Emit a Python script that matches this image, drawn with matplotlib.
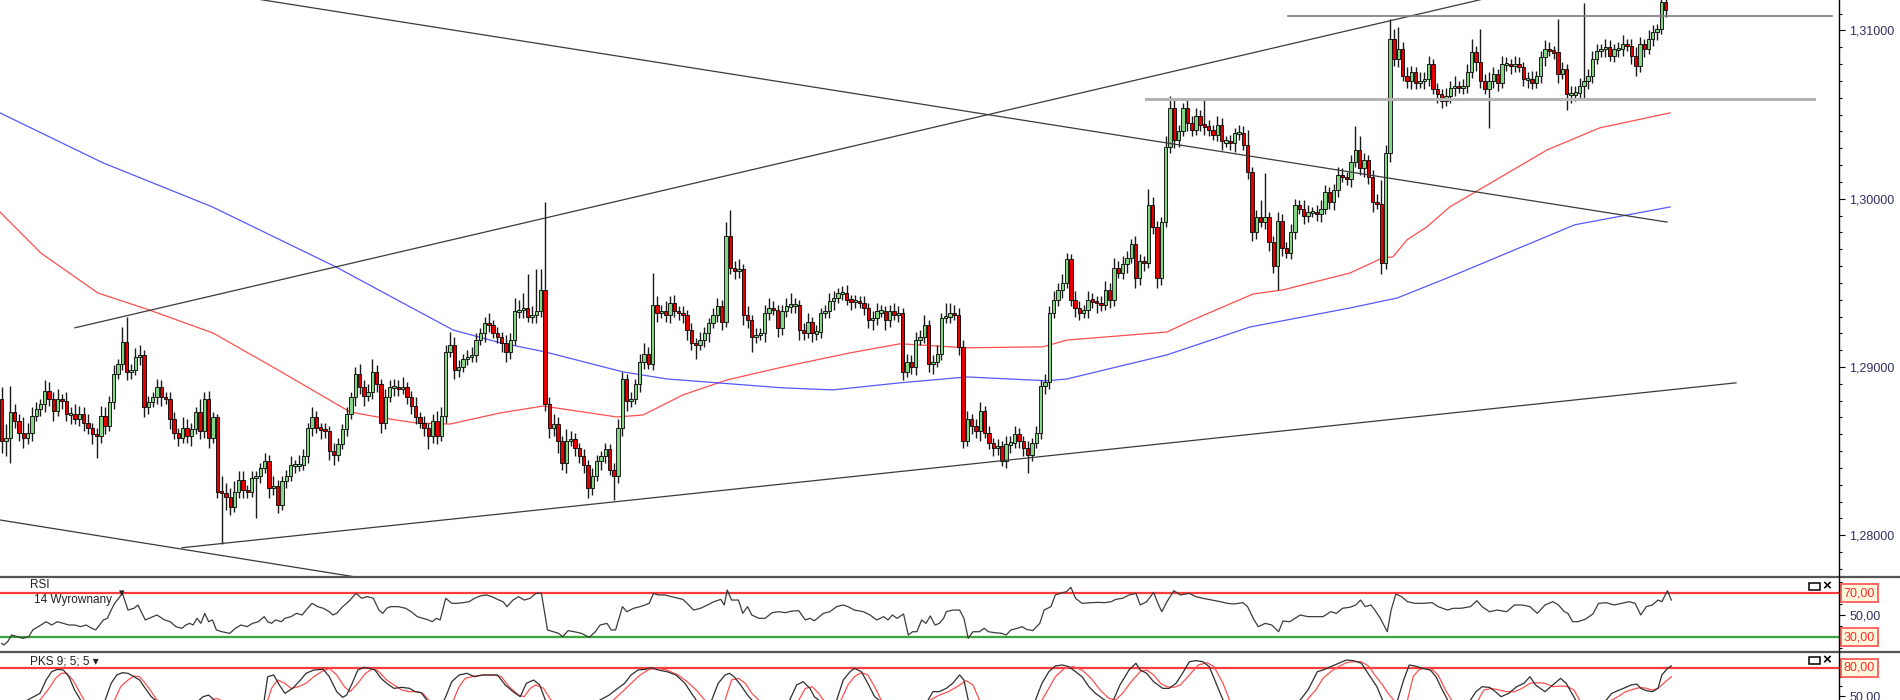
import matplotlib
matplotlib.use("Agg")
import matplotlib.pyplot as plt
import numpy as np
from matplotlib.lines import Line2D
from matplotlib.patches import Rectangle
from matplotlib.transforms import blended_transform_factory

plt.rcParams['font.family'] = ['Liberation Sans', 'DejaVu Sans']

# ---- data: prices in pips above 1.28000, one candle per bar ----
base = 1.28
first_open = 81
closes = [
    56, 58, 73, 68, 61, 58, 61, 71, 75, 78,
    86, 81, 74, 81, 80, 72, 72, 69, 72, 67,
    64, 60, 59, 71, 65, 79, 96, 102, 115, 97,
    98, 106, 107, 76, 79, 82, 88, 82, 81, 69,
    61, 58, 64, 59, 63, 73, 62, 81, 58, 70,
    26, 25, 23, 17, 26, 33, 27, 26, 34, 35,
    40, 44, 28, 29, 18, 32, 35, 42, 42, 42,
    47, 64, 70, 64, 63, 62, 50, 48, 54, 63,
    72, 82, 96, 88, 83, 85, 97, 90, 67, 82,
    88, 88, 87, 88, 82, 77, 70, 67, 64, 59,
    68, 59, 71, 109, 113, 98, 100, 105, 106, 107,
    116, 120, 126, 125, 120, 118, 114, 109, 116, 133,
    134, 135, 130, 131, 133, 146, 78, 64, 66, 56,
    43, 56, 57, 52, 47, 42, 28, 35, 44, 47,
    51, 39, 35, 64, 93, 80, 81, 90, 103, 108,
    102, 137, 132, 133, 131, 138, 133, 132, 131, 122,
    114, 113, 116, 120, 126, 131, 136, 127, 178, 159,
    157, 158, 131, 128, 118, 119, 120, 132, 135, 134,
    123, 133, 136, 137, 137, 122, 120, 127, 120, 121,
    132, 133, 139, 141, 144, 144, 140, 139, 139, 138,
    135, 128, 129, 133, 133, 128, 133, 131, 132, 97,
    103, 100, 116, 118, 125, 102, 103, 108, 129, 130,
    132, 131, 112, 56, 69, 65, 62, 74, 61, 55,
    52, 53, 44, 54, 55, 60, 56, 52, 48, 55,
    61, 89, 91, 132, 140, 146, 150, 164, 140, 135,
    132, 134, 140, 139, 138, 137, 146, 140, 159, 156,
    161, 165, 173, 153, 163, 162, 196, 183, 153, 186,
    231, 254, 235, 240, 254, 245, 241, 249, 244, 243,
    241, 238, 244, 234, 234, 233, 239, 239, 232, 216,
    180, 189, 186, 189, 174, 160, 187, 171, 168, 180,
    196, 194, 190, 192, 192, 191, 194, 204, 198, 205,
    214, 213, 212, 222, 229, 218, 223, 213, 198, 197,
    162, 227, 295, 283, 289, 273, 270, 275, 269, 270,
    271, 280, 265, 262, 258, 261, 266, 267, 266, 267,
    275, 287, 281, 270, 265, 270, 274, 269, 280, 280,
    279, 280, 278, 271, 271, 269, 273, 284, 289, 288,
    287, 274, 277, 262, 262, 263, 267, 270, 273, 283,
    288, 289, 290, 285, 289, 289, 292, 291, 285, 279,
    292, 289, 295, 299, 301, 317, 312,
]
# wick length above / below the body, pips
wick_hi = [
    7, 8, 16, 5, 4, 9, 6, 5, 4, 3,
    6, 5, 4, 6, 3, 5, 4, 6, 5, 4,
    5, 3, 4, 6, 5, 4, 5, 3, 9, 15,
    4, 5, 6, 3, 4, 3, 5, 4, 3, 4,
    4, 3, 6, 5, 4, 3, 8, 4, 5, 3,
    2, 9, 6, 5, 6, 5, 5, 3, 4, 3,
    3, 5, 4, 6, 4, 3, 4, 5, 3, 6,
    4, 3, 6, 4, 3, 4, 3, 5, 4, 3,
    4, 3, 4, 6, 4, 5, 8, 4, 3, 5,
    4, 5, 4, 6, 3, 4, 5, 3, 4, 3,
    4, 6, 5, 4, 8, 5, 4, 3, 4, 5,
    4, 3, 4, 6, 3, 4, 3, 5, 4, 8,
    6, 9, 20, 5, 25, 12, 52, 4, 6, 4,
    3, 7, 5, 4, 3, 4, 3, 5, 4, 3,
    4, 3, 4, 5, 4, 3, 4, 3, 5, 6,
    4, 19, 5, 4, 6, 4, 5, 3, 4, 3,
    4, 3, 5, 4, 3, 4, 5, 4, 8, 15,
    4, 6, 3, 5, 3, 4, 3, 5, 6, 4,
    3, 4, 5, 7, 4, 3, 4, 5, 3, 4,
    3, 4, 5, 4, 3, 4, 5, 3, 4, 3,
    4, 3, 4, 5, 4, 3, 4, 5, 4, 3,
    5, 4, 5, 4, 6, 3, 4, 5, 3, 8,
    6, 5, 4, 4, 5, 3, 4, 5, 3, 4,
    3, 4, 3, 5, 4, 5, 4, 3, 4, 3,
    4, 3, 5, 4, 5, 4, 5, 4, 3, 5,
    4, 3, 5, 4, 3, 4, 5, 4, 6, 4,
    5, 4, 3, 5, 4, 3, 10, 5, 4, 3,
    6, 7, 5, 4, 3, 5, 4, 5, 4, 16,
    4, 3, 5, 4, 3, 4, 3, 5, 4, 9,
    3, 4, 10, 26, 3, 4, 5, 4, 3, 5,
    4, 3, 5, 4, 3, 4, 5, 4, 3, 4,
    5, 4, 3, 4, 14, 8, 4, 3, 4, 5,
    14, 5, 12, 6, 13, 4, 5, 4, 3, 5,
    4, 5, 3, 4, 3, 5, 4, 6, 3, 4,
    5, 8, 4, 20, 4, 5, 4, 3, 5, 4,
    3, 5, 4, 3, 4, 5, 3, 4, 5, 4,
    3, 20, 4, 3, 5, 4, 5, 46, 4, 5,
    4, 3, 5, 4, 3, 4, 5, 3, 4, 5,
    4, 3, 5, 4, 3, 4, 3,
]
wick_lo = [
    7, 9, 15, 4, 5, 6, 4, 5, 3, 4,
    5, 4, 6, 3, 5, 4, 6, 3, 4, 5,
    4, 6, 13, 4, 5, 3, 4, 3, 4, 5,
    4, 3, 5, 6, 4, 3, 4, 5, 3, 6,
    4, 5, 3, 4, 6, 3, 5, 4, 6, 3,
    4, 30, 8, 5, 3, 4, 5, 4, 3, 24,
    4, 3, 6, 4, 5, 3, 4, 3, 5, 4,
    3, 4, 5, 3, 6, 4, 5, 6, 4, 3,
    4, 3, 5, 4, 6, 3, 4, 5, 6, 4,
    3, 5, 4, 3, 4, 5, 4, 3, 5, 8,
    4, 5, 3, 4, 3, 5, 4, 3, 4, 3,
    4, 3, 5, 4, 3, 4, 5, 6, 4, 3,
    4, 5, 3, 4, 5, 3, 4, 6, 5, 7,
    4, 6, 3, 5, 4, 5, 6, 4, 3, 5,
    4, 3, 14, 4, 5, 6, 4, 3, 5, 4,
    3, 4, 5, 3, 4, 5, 3, 4, 5, 6,
    4, 8, 3, 4, 5, 3, 4, 5, 3, 4,
    5, 4, 6, 5, 9, 4, 3, 5, 4, 3,
    5, 4, 3, 4, 5, 6, 4, 3, 5, 4,
    4, 3, 4, 5, 3, 4, 3, 5, 4, 3,
    4, 5, 6, 4, 3, 6, 4, 3, 4, 5,
    3, 4, 5, 3, 4, 5, 6, 3, 4, 3,
    4, 3, 5, 4, 3, 5, 4, 6, 3, 4,
    5, 4, 3, 4, 5, 3, 4, 5, 11, 4,
    3, 4, 5, 4, 3, 4, 5, 3, 4, 5,
    4, 3, 5, 4, 6, 4, 3, 5, 4, 3,
    4, 5, 3, 6, 4, 5, 3, 4, 6, 4,
    3, 4, 5, 4, 3, 5, 4, 3, 4, 5,
    4, 3, 4, 5, 3, 4, 5, 4, 3, 4,
    5, 4, 3, 4, 5, 4, 14, 5, 3, 4,
    4, 3, 5, 4, 3, 4, 5, 3, 4, 5,
    4, 3, 4, 5, 3, 4, 5, 4, 6, 3,
    7, 4, 5, 4, 5, 3, 4, 5, 4, 3,
    5, 4, 3, 5, 4, 3, 4, 5, 3, 4,
    4, 3, 5, 4, 3, 23, 4, 5, 3, 4,
    5, 4, 3, 4, 5, 4, 3, 4, 5, 3,
    4, 5, 3, 9, 5, 4, 3, 8, 5, 4,
    3, 4, 5, 3, 4, 5, 4, 3, 5, 6,
    4, 5, 3, 4, 5, 3, 4,
]

# moving averages: (bar, pips)
ma_red = [(-0.4, 192.1), (9.1, 167.7), (22.3, 144.0), (34.2, 133.9), (49.0, 120.2),
          (62.9, 100.0), (80.8, 73.3), (88.4, 69.7), (96.3, 66.7), (104.0, 66.1),
          (115.6, 72.7), (125.6, 76.8), (142.7, 70.3), (148.8, 71.5), (158.0, 83.4),
          (168.2, 92.3), (181.2, 100.0), (196.8, 108.4), (208.4, 113.8), (223.9, 111.4),
          (241.5, 112.0), (247.1, 116.0), (270.3, 120.8), (276.3, 128.0), (290.3, 143.4),
          (297.2, 145.8), (312.8, 155.9), (320.4, 164.9), (322.7, 165.4), (326.0, 175.6),
          (330.6, 183.3), (335.9, 195.1), (358.5, 229.0), (370.7, 242.1), (387.0, 251.0)]
ma_blue = [(-0.4, 251.0), (23.5, 221.3), (48.8, 195.2), (77.5, 159.5), (91.7, 139.9),
           (104.7, 122.0), (115.6, 114.4), (126.0, 109.0), (144.1, 97.1), (154.3, 92.9),
           (181.2, 87.6), (192.8, 86.4), (208.4, 90.6), (223.9, 94.1), (242.5, 91.8),
           (247.1, 92.9), (270.3, 107.2), (289.6, 123.8), (312.8, 135.1), (323.7, 141.0),
           (335.9, 153.5), (364.9, 184.5), (387.0, 195.1)]

# drawn trend lines (bar, pips) -> (bar, pips)
trend_lines = [((17.0, 123.3), (347.6, 321.0)),
               ((57.6, 319.3), (386.3, 186.1)),
               ((41.8, -7.4), (402.3, 90.6)),
               ((-0.4, 9.1), (82.2, -24.8))]
# horizontal levels: pips, from bar, to bar
levels = [(308.7, 298.3, 424.6), (259.0, 265.4, 420.4)]

# RSI 14 (bar, value)
rsi = [(0, 24.2), (0.5, 22.7), (1.4, 25.8), (2.3, 31.8), (3.6, 30.3), (4.9, 28.8), (6.3, 30.3),
       (7.2, 36.4), (8.5, 39.4), (10.3, 43.9), (11.6, 40.9), (12.9, 43.9), (14.3, 42.4), (15.6, 40.9),
       (16.9, 40.9), (18.3, 39.4), (19.6, 40.9), (20.9, 37.9), (21.8, 36.4), (22.7, 40.9), (23.6, 45.5),
       (24.5, 47.0), (25.4, 54.5), (26.2, 60.6), (27.1, 65.2), (28.0, 69.7), (29.3, 54.5), (30.7, 56.1),
       (31.6, 59.1), (33.3, 45.5), (35.1, 48.5), (36.0, 50.0), (37.8, 45.5), (39.1, 43.9), (40.4, 39.4),
       (41.8, 37.9), (42.7, 40.9), (43.6, 42.4), (44.4, 40.9), (45.3, 47.0), (46.2, 42.4), (47.1, 51.5),
       (48.0, 43.9), (48.9, 45.5), (49.8, 36.4), (51.1, 34.8), (52.9, 33.3), (54.2, 37.9), (55.5, 40.9),
       (56.9, 39.4), (58.2, 42.4), (59.5, 43.9), (60.9, 48.5), (61.7, 43.9), (62.6, 42.4), (63.5, 45.5),
       (64.9, 43.9), (65.7, 47.0), (67.1, 48.5), (68.4, 51.5), (69.7, 50.0), (70.6, 54.5), (72.0, 60.6),
       (73.3, 57.6), (74.6, 56.1), (76.0, 53.0), (76.8, 50.0), (77.7, 51.5), (79.1, 57.6), (80.0, 60.6),
       (80.8, 63.6), (82.2, 69.7), (83.5, 65.2), (84.8, 66.7), (86.2, 65.2), (87.5, 54.5), (88.4, 51.5),
       (89.3, 56.1), (90.2, 57.6), (92.0, 57.6), (93.7, 56.1), (95.0, 53.0), (96.4, 48.5), (97.7, 47.0),
       (99.0, 45.5), (99.9, 43.9), (100.8, 47.0), (101.7, 45.5), (103.0, 65.2), (104.4, 60.6),
       (105.7, 60.6), (107.0, 61.2), (108.4, 62.1), (109.7, 65.2), (111.0, 67.3), (112.4, 68.2),
       (113.7, 66.7), (115.0, 64.2), (116.3, 62.1), (117.2, 57.6), (118.6, 63.6), (119.9, 66.7),
       (121.2, 63.6), (122.6, 65.2), (123.9, 69.7), (125.2, 69.7), (126.6, 36.4), (127.9, 34.8),
       (129.2, 33.3), (130.1, 30.3), (131.4, 35.8), (132.8, 34.8), (134.5, 33.3), (136.3, 29.7),
       (137.7, 34.8), (138.8, 40.9), (140.4, 42.4), (141.4, 36.4), (142.4, 36.4), (144.0, 57.6),
       (145.0, 53.0), (146.6, 56.1), (148.1, 57.6), (149.2, 59.1), (150.2, 60.6), (151.2, 69.7),
       (152.3, 68.2), (153.8, 68.2), (155.4, 66.7), (156.9, 65.2), (158.0, 64.2), (159.0, 60.6),
       (160.5, 54.5), (162.1, 56.1), (163.7, 59.1), (165.2, 62.1), (166.8, 64.2), (167.6, 59.1),
       (168.3, 72.7), (169.3, 63.6), (170.9, 63.6), (171.9, 51.5), (173.0, 57.6), (174.0, 50.0),
       (175.6, 47.0), (177.1, 47.0), (178.7, 52.1), (180.2, 53.0), (181.8, 52.1), (183.3, 53.6),
       (184.9, 53.9), (186.4, 45.5), (187.5, 47.0), (188.5, 44.8), (189.5, 47.9), (190.6, 51.5),
       (192.1, 53.0), (193.7, 57.6), (195.2, 59.1), (196.3, 57.6), (197.8, 54.5), (199.9, 53.0),
       (201.4, 50.0), (203.0, 45.5), (204.6, 48.5), (205.6, 45.5), (206.6, 50.0), (207.7, 47.0),
       (209.2, 50.9), (210.3, 31.8), (211.3, 34.8), (212.3, 34.8), (213.4, 45.5), (214.4, 42.4),
       (215.4, 49.1), (216.5, 40.9), (217.5, 42.4), (218.5, 47.0), (219.1, 53.0), (220.6, 54.5),
       (222.2, 54.5), (223.2, 47.0), (224.2, 28.8), (225.3, 34.8), (226.8, 34.8), (227.9, 37.9),
       (228.9, 34.8), (230.4, 33.9), (232.0, 33.3), (233.0, 31.8), (234.1, 36.4), (235.6, 37.9),
       (236.7, 39.4), (237.7, 37.0), (239.2, 35.8), (240.8, 42.4), (241.8, 54.5), (243.4, 57.6),
       (244.4, 68.2), (246.0, 70.3), (247.0, 71.2), (248.0, 75.2), (249.1, 65.2), (250.6, 60.6),
       (252.7, 61.2), (254.3, 61.5), (255.8, 61.2), (257.4, 62.1), (258.4, 64.2), (260.0, 65.2),
       (261.5, 68.2), (263.1, 69.7), (264.1, 59.1), (265.6, 62.1), (267.2, 70.6), (268.2, 60.6),
       (269.1, 53.0), (270.3, 62.1), (271.9, 72.1), (273.4, 68.2), (275.5, 69.7), (277.0, 66.7),
       (278.6, 65.2), (280.7, 63.6), (282.7, 62.1), (284.3, 60.6), (285.8, 60.0), (287.9, 61.2),
       (289.0, 57.6), (290.5, 45.5), (291.5, 39.4), (293.1, 42.4), (294.6, 40.9), (296.2, 34.8),
       (297.2, 44.5), (298.8, 43.9), (301.2, 50.0), (303.0, 48.5), (304.8, 48.5), (306.5, 48.5),
       (308.3, 53.0), (309.6, 51.5), (311.0, 56.1), (312.7, 57.0), (314.1, 59.1), (315.2, 63.6),
       (316.3, 57.6), (317.6, 59.1), (318.5, 54.5), (319.8, 47.0), (321.4, 34.8), (322.3, 54.5),
       (323.4, 69.1), (324.7, 66.7), (326.1, 62.1), (327.8, 60.6), (329.6, 60.6), (331.8, 61.2),
       (333.2, 57.6), (335.4, 54.5), (336.7, 56.1), (338.5, 56.1), (340.7, 57.6), (342.2, 63.0),
       (343.4, 57.6), (345.1, 53.0), (346.9, 54.5), (349.1, 53.0), (350.9, 59.1), (352.7, 59.1),
       (354.5, 57.6), (356.2, 51.5), (358.0, 59.1), (359.8, 62.1), (361.1, 59.1), (362.5, 53.0),
       (363.3, 51.5), (364.4, 43.9), (365.6, 43.9), (367.3, 46.1), (369.1, 50.9), (370.4, 60.6),
       (372.2, 61.2), (374.0, 59.1), (375.8, 60.6), (377.5, 62.1), (378.9, 60.6), (380.2, 50.0),
       (381.5, 57.6), (382.9, 59.1), (384.2, 63.6), (385.1, 62.1), (386.4, 72.1), (387.3, 63.6)]

# stochastic 9;5;5 : %K (black) and %D (red)
stoch_k = [(0, 30), (8.9, 52.4), (10.3, 66.9), (11.6, 76.0), (12.9, 78.5), (14.3, 77.8), (15.6, 70.5),
           (16.9, 56.0), (18.3, 45.1), (21, 25), (24.0, 45.1), (25.4, 63.3), (26.7, 72.4), (28.0, 74.9),
           (29.3, 74.2), (30.7, 70.5), (32.0, 66.9), (33.3, 57.8), (34.7, 48.7), (35.6, 45.1), (41, 25),
           (46.7, 48.7), (48.0, 50.5), (49.3, 45.1), (55, 25), (60.9, 45.1), (61.7, 70.5), (63.1, 72.4),
           (64.4, 61.5), (65.7, 52.4), (67.5, 57.8), (69.3, 66.9), (70.6, 74.2), (72.4, 77.8), (74.6, 78.5),
           (76.0, 70.5), (77.7, 54.2), (79.1, 48.0), (80.0, 50.5), (81.3, 63.3), (82.6, 77.8), (84.0, 80.7),
           (85.3, 79.6), (86.6, 77.8), (88.0, 68.7), (89.3, 63.3), (91.0, 57.8), (92.8, 58.9), (94.6, 57.8),
           (95.9, 54.2), (97.3, 53.1), (98.6, 45.1), (101, 30), (103.0, 48.7), (104.4, 65.1), (106.1, 72.4),
           (107.9, 74.2), (109.7, 70.5), (111.5, 72.4), (113.2, 72.4), (115.0, 72.4), (116.8, 61.5),
           (118.6, 54.2), (120.3, 48.7), (121.7, 63.3), (123.4, 66.9), (124.8, 61.5), (126.1, 45.1),
           (131, 20), (138.8, 45.1), (140.9, 50.5), (142.9, 57.8), (144.5, 63.3), (146.0, 72.4),
           (147.6, 77.8), (149.2, 78.5), (150.7, 80.4), (152.3, 77.8), (154.3, 76.0), (156.4, 72.4),
           (158.5, 63.3), (160.0, 52.4), (161.1, 45.1), (163, 25), (164.7, 45.1), (166.2, 63.3),
           (167.8, 72.4), (168.8, 74.2), (169.9, 70.5), (171.4, 61.5), (173.0, 50.5), (174.0, 45.1),
           (179, 25), (182.8, 45.1), (184.4, 61.5), (185.9, 65.1), (187.5, 57.8), (188.5, 48.7),
           (189.5, 45.1), (191.5, 35), (193.7, 45.1), (195.2, 66.9), (196.8, 76.0), (197.8, 79.6),
           (199.4, 76.0), (200.9, 63.3), (202.5, 48.7), (203.5, 45.1), (209, 20), (214.9, 45.1),
           (216.0, 54.2), (217.5, 54.2), (219.1, 57.8), (220.6, 63.3), (222.2, 72.4), (223.2, 66.9),
           (224.2, 45.1), (232, 15), (239.8, 45.1), (241.3, 63.3), (242.9, 76.0), (244.4, 82.2),
           (246.0, 83.3), (247.5, 81.5), (249.1, 76.0), (250.6, 70.5), (252.2, 59.6), (253.7, 52.4),
           (255.8, 45.1), (256.8, 42), (257.9, 45.1), (259.4, 61.5), (261.5, 77.8), (263.1, 85.1),
           (264.1, 77.8), (265.6, 74.2), (267.2, 65.1), (269.3, 57.8), (270.8, 57.8), (272.4, 63.3),
           (273.9, 74.2), (275.5, 86.9), (277.0, 88.0), (278.6, 86.9), (280.1, 81.5), (281.7, 63.3),
           (283.3, 45.1), (292, 20), (301.2, 45.1), (303.0, 56.0), (305.2, 76.0), (306.5, 77.8),
           (308.3, 81.5), (310.1, 85.1), (311.9, 88.7), (313.6, 88.0), (315.4, 85.1), (317.2, 72.4),
           (319.0, 59.6), (320.3, 45.1), (322, 35), (323.8, 45.1), (325.2, 66.9), (326.5, 83.3),
           (327.8, 82.2), (329.6, 79.6), (331.4, 77.8), (332.7, 70.5), (334.0, 57.8), (335.4, 45.1),
           (338, 30), (340.7, 45.1), (342.0, 54.2), (343.4, 59.6), (345.1, 58.9), (346.5, 54.2),
           (347.8, 48.7), (349.6, 52.4), (351.4, 59.6), (353.1, 63.3), (354.5, 70.5), (355.8, 61.5),
           (358.0, 54.2), (359.8, 61.5), (361.6, 68.7), (362.9, 63.3), (364.2, 52.4), (365.1, 45.1),
           (369, 30), (372.2, 45.1), (373.5, 52.4), (374.9, 55.3), (376.2, 57.8), (378.0, 61.5),
           (379.3, 62.5), (380.2, 57.8), (381.5, 55.3), (382.9, 54.2), (384.2, 57.8), (385.1, 72.4),
           (386.4, 79.6), (387.3, 82.2)]
stoch_d = [(0, 30), (8.9, 45.1), (10.7, 56.0), (12.5, 68.7), (13.8, 74.2), (15.1, 74.2), (16.5, 66.9),
           (17.8, 56.0), (19.1, 45.1), (22.5, 30), (26.2, 45.1), (27.6, 59.6), (29.3, 66.9), (30.7, 71.3),
           (32.0, 70.5), (33.3, 63.3), (34.7, 54.2), (36.0, 45.1), (42, 25), (48.9, 45.1), (49.8, 46.9),
           (50.7, 45.1), (56, 30), (61.7, 45.1), (62.6, 57.8), (64.0, 66.9), (65.7, 63.3), (67.1, 57.8),
           (68.8, 59.6), (70.6, 63.3), (72.4, 70.5), (74.2, 76.0), (76.0, 79.6), (77.7, 72.4), (79.5, 59.6),
           (80.8, 54.2), (82.6, 63.3), (84.4, 74.2), (86.2, 79.6), (87.5, 76.0), (89.3, 66.9), (91.0, 61.5),
           (92.8, 56.0), (94.6, 54.2), (96.4, 54.2), (97.7, 52.4), (99.0, 45.1), (102, 30), (104.8, 45.1),
           (106.1, 59.6), (107.5, 68.7), (109.7, 71.3), (111.9, 72.4), (114.1, 72.4), (115.9, 70.5),
           (117.7, 59.6), (119.9, 50.5), (121.2, 48.7), (122.6, 57.8), (123.9, 61.5), (125.7, 57.8),
           (127.4, 45.1), (133, 20), (141.9, 45.1), (144.0, 54.2), (146.0, 63.3), (148.1, 72.4),
           (150.2, 78.5), (152.3, 79.6), (154.3, 77.8), (156.9, 72.4), (159.0, 65.1), (161.1, 56.0),
           (163.1, 45.1), (165.5, 30), (167.8, 45.1), (169.3, 66.9), (170.9, 68.7), (172.5, 63.3),
           (174.0, 52.4), (175.6, 45.1), (180, 25), (184.9, 45.1), (186.4, 57.8), (188.0, 59.6),
           (189.5, 52.4), (190.6, 45.1), (192.5, 35), (194.7, 45.1), (196.3, 61.5), (197.8, 70.5),
           (199.4, 74.9), (200.9, 72.4), (202.5, 59.6), (204.0, 45.1), (210, 20), (215.4, 45.1),
           (217.5, 50.5), (219.6, 54.2), (221.6, 59.6), (223.7, 66.2), (225.3, 61.5), (226.8, 45.1),
           (234, 15), (241.3, 45.1), (242.9, 57.8), (244.4, 70.5), (246.5, 79.6), (248.6, 81.5),
           (250.6, 77.8), (252.7, 68.7), (254.8, 56.0), (256.8, 46.9), (258.4, 45.1), (260.0, 52.4),
           (262.0, 65.1), (264.1, 76.0), (265.6, 77.8), (267.2, 72.4), (268.8, 63.3), (270.3, 59.6),
           (271.9, 58.9), (273.4, 61.5), (275.5, 72.4), (277.6, 83.3), (279.6, 85.8), (281.2, 81.5),
           (283.3, 63.3), (284.8, 45.1), (293, 20), (302.8, 45.1), (304.8, 56.0), (306.5, 68.7),
           (308.3, 76.0), (310.1, 81.5), (311.9, 85.8), (313.6, 86.9), (315.4, 86.9), (317.2, 81.5),
           (318.5, 72.4), (320.3, 61.5), (321.6, 52.4), (322.9, 45.1), (324.5, 35), (326.1, 45.1),
           (327.4, 70.5), (328.7, 77.8), (330.5, 80.7), (331.8, 78.5), (333.2, 72.4), (334.9, 56.0),
           (336.3, 45.1), (339, 30), (342.5, 45.1), (343.8, 56.0), (345.6, 57.8), (347.4, 56.0),
           (349.1, 54.2), (350.9, 54.2), (352.7, 57.8), (354.5, 63.3), (356.2, 64.0), (358.0, 63.3),
           (359.8, 59.6), (361.6, 60.4), (363.3, 59.6), (364.7, 56.0), (366.0, 45.1), (370, 30),
           (373.5, 45.1), (374.9, 48.7), (376.7, 54.2), (378.4, 56.7), (380.2, 58.9), (381.5, 57.8),
           (382.9, 56.0), (384.2, 57.8), (385.5, 63.3), (387.3, 70.5)]

# ---- layout (pixels) ----
W, H = 1900, 700
axis_px = 1839          # price scale line
sep1, sep2 = 577, 652   # panel separators
bar_px, first_px = 4.311, 1.7
xlim = (-first_px / bar_px, (axis_px - first_px) / bar_px)
ax_w = axis_px / W
lab_col = '#303060'

fig = plt.figure(figsize=(W / 100, H / 100), dpi=100)
fig.patch.set_facecolor('white')
ax = fig.add_axes([0, 1 - sep1 / H, ax_w, sep1 / H])
ax_rsi = fig.add_axes([0, 1 - sep2 / H, ax_w, (sep2 - sep1) / H])
ax_stc = fig.add_axes([0, 0, ax_w, 1 - sep2 / H])

# ---- candles ----
cl = np.array(closes, dtype=float)
op = np.concatenate([[first_open], cl[:-1]])
xs = np.arange(len(cl))
top = np.maximum(op, cl)
bot = np.minimum(op, cl)
hi = top + np.array(wick_hi)
lo = bot - np.array(wick_lo)
bull = cl >= op

ax.plot(*zip(*ma_red), color='#ff3030', lw=0.9, alpha=0.85, zorder=2)
ax.plot(*zip(*ma_blue), color='#3a3aff', lw=0.9, alpha=0.85, zorder=2)

ax.vlines(xs, lo, hi, color='#1a1a1a', lw=1.0, zorder=3)
hgt = np.maximum(top - bot, 1.3)
ax.bar(xs, hgt, bottom=(top + bot) / 2 - hgt / 2, width=0.78,
       color=np.where(bull, '#86d486', '#e40000'), edgecolor='black',
       linewidth=0.6, zorder=4)

for (x0, y0), (x1, y1) in trend_lines:
    ax.plot([x0, x1], [y0, y1], color='#3a3a3a', lw=0.9, zorder=5)
lev_style = [('#7c7c7c', 1.2), ('#b4b4b4', 2.2)]
for (lv, x0, x1), (c, w) in zip(levels, lev_style):
    ax.plot([x0, x1], [lv, lv], color=c, lw=w, zorder=5, clip_on=False)

ax.set_xlim(*xlim)
ax.set_ylim((535.3 - sep1) / 1.683, 535.3 / 1.683)
ax.yaxis.tick_right()
major = [0, 100, 200, 300]
ax.set_yticks(major)
ax.set_yticklabels([f"{base + v / 1e4:.5f}".replace('.', ',') for v in major])
ax.set_yticks(np.arange(-20, 320, 10), minor=True)

# ---- RSI ----
ax_rsi.axhline(70, color='#ff3b3b', lw=1.6)
ax_rsi.axhline(30, color='#3aa63a', lw=1.6)
ax_rsi.plot(*zip(*rsi), color='#3c3c3c', lw=0.9)
ax_rsi.set_xlim(*xlim)
ax_rsi.set_ylim(30 - 15 / 1.1, 70 + 16 / 1.1)
ax_rsi.yaxis.tick_right()
ax_rsi.set_yticks([50])
ax_rsi.set_yticklabels(['50,00'])
ax_rsi.set_yticks([20, 40, 60, 80], minor=True)

# ---- stochastic ----
ax_stc.axhline(80, color='#ff3b3b', lw=1.6)
ax_stc.plot(*zip(*stoch_d), color='#ff5050', lw=0.9)
ax_stc.plot(*zip(*stoch_k), color='#2e2e2e', lw=0.9)
ax_stc.set_xlim(*xlim)
ax_stc.set_ylim(80 - 32 / 0.917, 80 + 16 / 0.917)
ax_stc.yaxis.tick_right()
ax_stc.set_yticks([50])
ax_stc.set_yticklabels(['50,00'])
ax_stc.set_yticks([60, 70, 90], minor=True)

for a in (ax, ax_rsi, ax_stc):
    a.set_xticks([])
    for s in a.spines.values():
        s.set_visible(False)
    a.tick_params(axis='y', which='major', length=4.5, width=0.8, pad=3,
                  labelsize=9, labelcolor=lab_col, colors='black')
    a.tick_params(axis='y', which='minor', length=2.5, width=0.8, colors='black')
    a.tick_params(axis='y', which='both', labelcolor=lab_col)

# boxed level labels
for a, val, txt in ((ax_rsi, 70, '70,00'), (ax_rsi, 30, '30,00'), (ax_stc, 80, '80,00')):
    tr = blended_transform_factory(a.transAxes, a.transData)
    a.text(1.0025, val, txt, transform=tr, ha='left', va='center', fontsize=9,
           color='#ff2a2a', clip_on=False, zorder=10,
           bbox=dict(boxstyle='square,pad=0.22', fc='#fff7dc', ec='#ff5a5a', lw=1.3))

# panel captions
fig.text(30 / W, 1 - 585 / H, 'RSI', fontsize=8.5, va='center', color='#222')
fig.text(34 / W, 1 - 600 / H, '14 Wyrownany', fontsize=8.5, va='center', color='#222')
fig.text(119 / W, 1 - 593 / H, '▾', fontsize=8, va='center', color='#222')
fig.text(30 / W, 1 - 661 / H, 'PKS 9; 5; 5 ▾', fontsize=8.5, va='center', color='#222')

# small window buttons
for yb in (586, 660):
    fig.add_artist(Rectangle((1809 / W, 1 - (yb + 4) / H), 11 / W, 7 / H,
                             transform=fig.transFigure, fill=False, ec='black', lw=1.1))
    fig.text(1827 / W, 1 - yb / H, '×', fontsize=11, fontweight='bold',
             ha='center', va='center', color='black')

# separators and price scale line
for yy in (sep1, sep2):
    fig.add_artist(Line2D([0, 1], [1 - yy / H] * 2, color='#555555', lw=1.6))
fig.add_artist(Line2D([ax_w, ax_w], [0, 1], color='black', lw=1.0))

fig.savefig('out.png', dpi=100)
